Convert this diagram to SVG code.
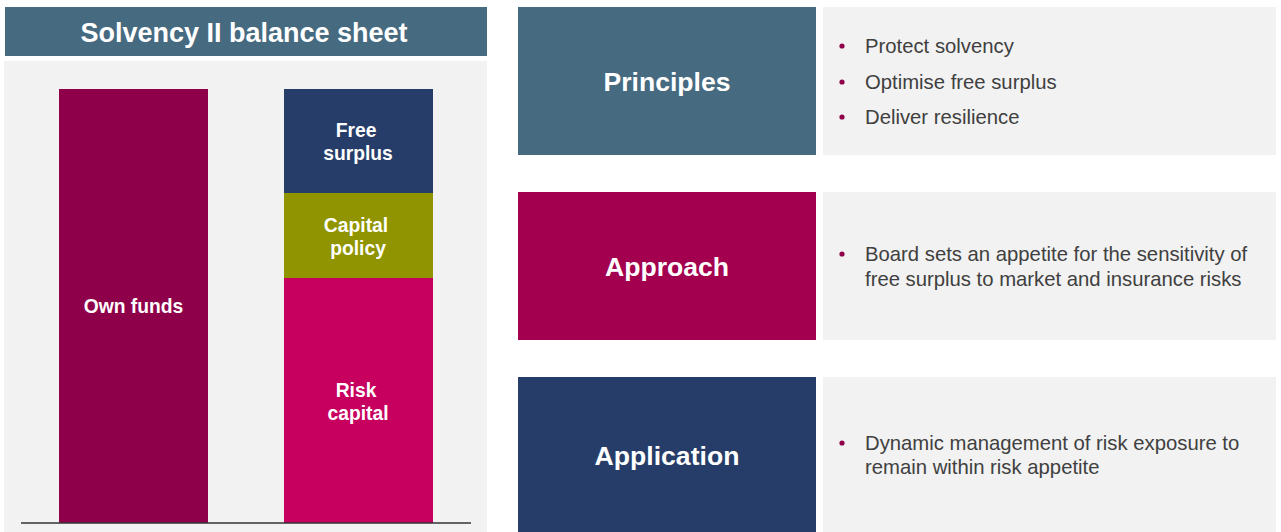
<svg xmlns="http://www.w3.org/2000/svg" width="1281" height="532" viewBox="0 0 1281 532">
<style>
.lbl{font-family:"Liberation Sans",Arial,sans-serif;font-weight:bold;fill:#ffffff;text-anchor:middle}
.big{font-size:26.6px}
.bar{font-size:19.3px}
.bul{font-family:"Liberation Sans",Arial,sans-serif;font-size:20.3px;fill:#404040}
.dot{fill:#8e004a}
.panel{fill:#f2f2f2}
</style>
<rect width="1281" height="532" fill="#ffffff"/>
<g id="title">
<rect x="5" y="7" width="482" height="49" fill="#466a7f"/>
<text class="lbl" x="244" y="42" font-size="27">Solvency II balance sheet</text>
</g>
<g id="chart">
<rect class="panel" x="4" y="61" width="483" height="471"/>
<g id="own-funds">
<rect x="59" y="89" width="149" height="434" fill="#8e004a"/>
<text class="lbl bar" x="133.5" y="313">Own funds</text>
</g>
<g id="free-surplus">
<rect x="284" y="89" width="149" height="104" fill="#253d68"/>
<text class="lbl bar" x="356" y="137">Free</text>
<text class="lbl bar" x="358" y="160">surplus</text>
</g>
<g id="capital-policy">
<rect x="284" y="193" width="149" height="85" fill="#8f9400"/>
<text class="lbl bar" x="356" y="232">Capital</text>
<text class="lbl bar" x="358" y="255">policy</text>
</g>
<g id="risk-capital">
<rect x="284" y="278" width="149" height="245" fill="#c70060"/>
<text class="lbl bar" x="356" y="397">Risk</text>
<text class="lbl bar" x="358" y="420">capital</text>
</g>
<line x1="21" y1="523" x2="471" y2="523" stroke="#333333" stroke-width="1.5"/>
</g>
<g id="principles">
<rect x="518" y="7" width="298" height="148" fill="#466a7f"/>
<text class="lbl big" x="667" y="91">Principles</text>
<rect class="panel" x="823" y="7" width="453" height="148"/>
<circle class="dot" cx="842" cy="46" r="2.6"/>
<text class="bul" x="865" y="53">Protect solvency</text>
<circle class="dot" cx="842" cy="82" r="2.6"/>
<text class="bul" x="865" y="89">Optimise free surplus</text>
<circle class="dot" cx="842" cy="117" r="2.6"/>
<text class="bul" x="865" y="124">Deliver resilience</text>
</g>
<g id="approach">
<rect x="518" y="192" width="298" height="148" fill="#a3004f"/>
<text class="lbl big" x="667" y="276">Approach</text>
<rect class="panel" x="823" y="192" width="453" height="148"/>
<circle class="dot" cx="842" cy="254" r="2.6"/>
<text class="bul" x="865" y="261">Board sets an appetite for the sensitivity of</text>
<text class="bul" x="865" y="286">free surplus to market and insurance risks</text>
</g>
<g id="application">
<rect x="518" y="377" width="298" height="155" fill="#253d68"/>
<text class="lbl big" x="667" y="465">Application</text>
<rect class="panel" x="823" y="377" width="453" height="155"/>
<circle class="dot" cx="842" cy="443" r="2.6"/>
<text class="bul" x="865" y="450">Dynamic management of risk exposure to</text>
<text class="bul" x="865" y="474">remain within risk appetite</text>
</g>
<g id="connectors"/>
</svg>
